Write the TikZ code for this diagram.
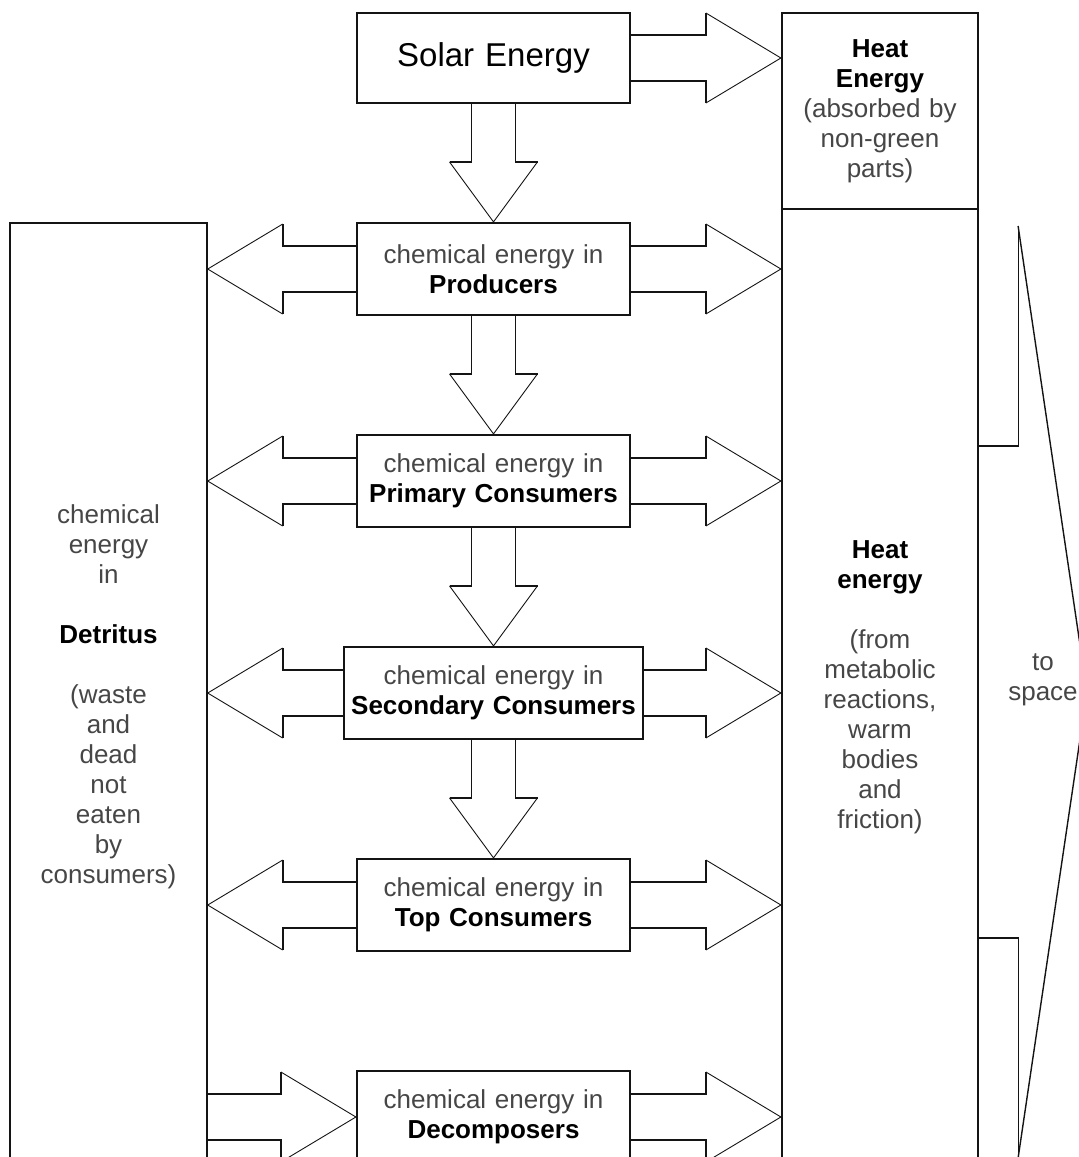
\documentclass[tikz,border=0pt]{standalone}
\usepackage{fontspec}
\setmainfont{Liberation Sans}
\usetikzlibrary{positioning, calc}
\definecolor{colText}{RGB}{70,70,70}
\definecolor{colLine}{RGB}{20,20,20}
\newcommand{\chem}{\textcolor{colText}{chemical energy in}}
\newcommand{\key}[1]{\textcolor{black}{\textbf{#1}}}
\tikzset{
    stage/.style={rectangle, draw=colLine, line width=2.2pt, text width=273pt,
        minimum height=92pt, inner sep=0pt, align=center, font=\fontsize{26}{30}\selectfont},
    pool/.style={rectangle, draw=colLine, line width=2.2pt, text width=196pt,
        inner sep=0pt, align=center, text=colText, font=\fontsize{26}{30}\selectfont},
    shaft/.style={draw=colLine, line width=1.7pt},
    head/.style={draw=colLine, line width=0.9pt}
}
% fat arrows: #1 = start on the box, #2 = tip
\newcommand{\hflow}[2]{%
    \draw[shaft] let \p1=#1, \p2=#2, \p3=($#2!75pt!#1$) in
        (\x1,\y1+23pt) -- (\x3,\y1+23pt) -- (\x3,\y1+45pt)
        (\x1,\y1-23pt) -- (\x3,\y1-23pt) -- (\x3,\y1-45pt);
    \draw[head] let \p1=#1, \p2=#2, \p3=($#2!75pt!#1$) in
        (\x3,\y1+45pt) -- (\x2,\y2) -- (\x3,\y1-45pt);
}
\newcommand{\vflow}[2]{%
    \draw[shaft] let \p1=#1, \p2=#2, \p3=($#2!60pt!#1$) in
        (\x1-22pt,\y1) -- (\x1-22pt,\y3) -- (\x1-44pt,\y3)
        (\x1+22pt,\y1) -- (\x1+22pt,\y3) -- (\x1+44pt,\y3);
    \draw[head] let \p1=#1, \p2=#2, \p3=($#2!60pt!#1$) in
        (\x1-44pt,\y3) -- (\x2,\y2) -- (\x1+44pt,\y3);
}

\begin{document}
\begin{tikzpicture}[x=1pt, y=1pt, node distance=117.8pt]

    \useasboundingbox (0,0) rectangle (1079,-1157);
    \clip (0,0) rectangle (1079,-1157);

    % food chain
    \node[stage, minimum height=90pt, font=\fontsize{33}{38}\selectfont] (solar) at (493.5,-58) {Solar Energy};
    \node[stage, below=of solar] (prod) {\chem\\\key{Producers}};
    \node[stage, below=of prod] (prim) {\chem\\\key{Primary Consumers}};
    \node[stage, below=of prim, text width=299pt] (sec) {\chem\\\key{Secondary Consumers}};
    \node[stage, below=of sec] (topc) {\chem\\\key{Top Consumers}};
    \node[stage, below=of topc] (decomp) {\chem\\\key{Decomposers}};

    % side pools
    \node[pool, minimum height=196pt] (heattop) at (880,-111)
        {\key{Heat}\\\key{Energy}\\(absorbed by\\non-green\\parts)};
    \node[pool, minimum height=956pt, below=-2.2pt of heattop] (heatcol)
        {\key{Heat}\\\key{energy}\\[30pt](from\\metabolic\\reactions,\\warm\\bodies\\and\\friction)};
    \node[pool, text width=197pt, minimum height=948pt, line width=1.4pt] (detritus) at (108.5,-697)
        {chemical\\energy\\in\\[30pt]\key{Detritus}\\[30pt](waste\\and\\dead\\not\\eaten\\by\\consumers)};

    \coordinate (space) at (1087,-692);
    \node[text=colText, align=center, font=\fontsize{26}{30}\selectfont] (tospace) at (1043,-680) {to\\space};

    % down the chain
    \vflow{(solar.south)}{(prod.north)}
    \vflow{(prod.south)}{(prim.north)}
    \vflow{(prim.south)}{(sec.north)}
    \vflow{(sec.south)}{(topc.north)}

    % losses as heat
    \hflow{(solar.east)}{(heattop.west |- solar.east)}
    \hflow{(prod.east)}{(heatcol.west |- prod.east)}
    \hflow{(prim.east)}{(heatcol.west |- prim.east)}
    \hflow{(sec.east)}{(heatcol.west |- sec.east)}
    \hflow{(topc.east)}{(heatcol.west |- topc.east)}
    \hflow{(decomp.east)}{(heatcol.west |- decomp.east)}

    % to detritus and back
    \hflow{(prod.west)}{(detritus.east |- prod.west)}
    \hflow{(prim.west)}{(detritus.east |- prim.west)}
    \hflow{(sec.west)}{(detritus.east |- sec.west)}
    \hflow{(topc.west)}{(detritus.east |- topc.west)}
    \hflow{(detritus.east |- decomp.west)}{(decomp.west)}

    % out to space
    \draw[shaft, line width=1.2pt] ($(heatcol.east |- space)+(0,246)$) -- ++(39,0) -- ++(0,220);
    \draw[shaft, line width=1.2pt] ($(heatcol.east |- space)+(0,-246)$) -- ++(39,0) -- ++(0,-220);
    \draw[head, line width=1.4pt] ($(heatcol.east |- space)+(39,466)$) -- (space) -- ($(heatcol.east |- space)+(39,-466)$);

\end{tikzpicture}
\end{document}
